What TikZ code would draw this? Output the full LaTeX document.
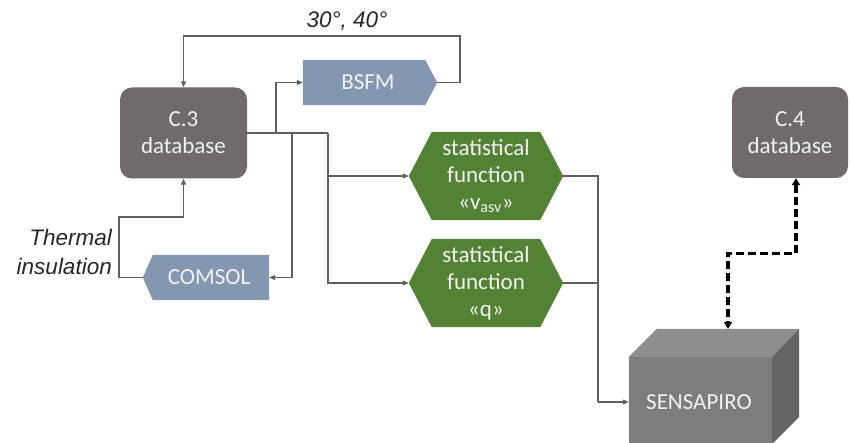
\documentclass[tikz,border=0pt]{standalone}
\usepackage{fontspec}
\setmainfont{Carlito}
\newfontfamily\labfont{Liberation Sans}
\usetikzlibrary{arrows.meta,calc}
\definecolor{dbgray}{RGB}{112,106,106}
\definecolor{bluegray}{RGB}{132,151,176}
\definecolor{stgreen}{RGB}{84,130,53}
\definecolor{connc}{RGB}{95,95,95}
\definecolor{cubefront}{RGB}{125,125,125}
\definecolor{cubetop}{RGB}{142,142,142}
\definecolor{cubeside}{RGB}{100,100,100}
\begin{document}
\begin{tikzpicture}[x=1pt,y=-1pt,
  txt/.style={font=\fontsize{23}{27}\selectfont, text=white!95!black, align=center, inner sep=0pt},
  dbbox/.style={txt, fill=dbgray, rounded corners=12pt, minimum width=#1, minimum height=91pt},
  areabox/.style={inner sep=0pt, minimum width=#1},
  conn/.style={draw=connc, line width=1.1pt},
  tip/.style={-{Triangle[length=6pt,width=5pt]}},
  lab/.style={font=\labfont\itshape\fontsize{22.5}{28}\selectfont, inner sep=0pt, text=black!85}
]
\useasboundingbox (0,0) rectangle (850,443);

% databases
\node[dbbox=127pt] (c3) at (183.5,133) {C.3\\database};
\node[dbbox=116pt] (c4) at (790,132.5) {C.4\\database};

% BSFM
\node[areabox=134pt, minimum height=45pt] (bsfm) at (370,82.5) {};
\fill[bluegray] (bsfm.north west) -- ([xshift=-12pt]bsfm.north east) -- (bsfm.east)
  -- ([xshift=-12pt]bsfm.south east) -- (bsfm.south west) -- cycle;
\node[txt] at ([xshift=-2pt]bsfm.center) {BSFM};

% COMSOL
\node[areabox=126pt, minimum height=45pt] (comsol) at (206,277.5) {};
\fill[bluegray] (comsol.west) -- ([xshift=10pt]comsol.north west) -- (comsol.north east)
  -- (comsol.south east) -- ([xshift=10pt]comsol.south west) -- cycle;
\node[txt] at ([xshift=3pt]comsol.center) {COMSOL};

% statistical functions
\node[areabox=154pt, minimum height=88pt] (s1) at (486,176) {};
\fill[stgreen] (s1.west) -- ([xshift=23pt]s1.north west) -- ([xshift=-23pt]s1.north east)
  -- (s1.east) -- ([xshift=-23pt]s1.south east) -- ([xshift=23pt]s1.south west) -- cycle;
\node[txt] at (s1.center) {statistical\\function\\«v\textsubscript{asv}»};

\node[areabox=154pt, minimum height=88pt] (s2) at (486,283) {};
\fill[stgreen] (s2.west) -- ([xshift=23pt]s2.north west) -- ([xshift=-23pt]s2.north east)
  -- (s2.east) -- ([xshift=-23pt]s2.south east) -- ([xshift=23pt]s2.south west) -- cycle;
\node[txt] at (s2.center) {statistical\\function\\«q»};

% SENSAPIRO cube
\node[areabox=143pt, minimum height=90pt, fill=cubefront] (sens) at (700.5,402) {};
\fill[cubetop] (sens.north west) -- ([shift={(28,-28)}]sens.north west)
  -- ([shift={(27,-28)}]sens.north east) -- (sens.north east) -- cycle;
\fill[cubeside] (sens.north east) -- ([shift={(27,-28)}]sens.north east)
  -- ([shift={(27,60)}]sens.north east) -- ([shift={(0,87)}]sens.north east) -- cycle;
\node[txt, anchor=base west] at (646,409) {SENSAPIRO};
\coordinate (senstop) at (728,329);

% labels
\node[lab, anchor=base] at (347,28) {30°, 40°};
\node[lab, anchor=base east] at (112,246) {Thermal};
\node[lab, anchor=base east] at (112,274) {insulation};

% junction coordinates
\coordinate (jb) at (276,133);
\coordinate (jc) at (292,133);
\coordinate (js) at (328,133);
\coordinate (jr) at (598,402);

% connectors
\draw[conn] (c3.east) -- (js);
\draw[conn,tip] (jb) |- (bsfm.west);
\draw[conn,tip] (jc) |- (comsol.east);
\draw[conn,tip] (js) |- (s1.west);
\draw[conn,tip] (js) |- (s2.west);
\draw[conn,tip] (bsfm.east) -- (460,82.5) -- (460,36) -| (c3.north);
\draw[conn,tip] (comsol.west) -- (119,277.5) -- (119,217) -| (c3.south);
\draw[conn] (s1.east) -| (jr);
\draw[conn] (s2.east) -| (jr);
\draw[conn,tip] (jr) -- (sens.west);
\draw[line width=3.2pt, dash pattern=on 8pt off 4pt,
  {Triangle[length=7pt,width=8pt]}-{Triangle[length=7pt,width=8pt]}]
  ([xshift=6pt]c4.south) -- ++(0,75) -| (senstop);
\end{tikzpicture}
\end{document}
